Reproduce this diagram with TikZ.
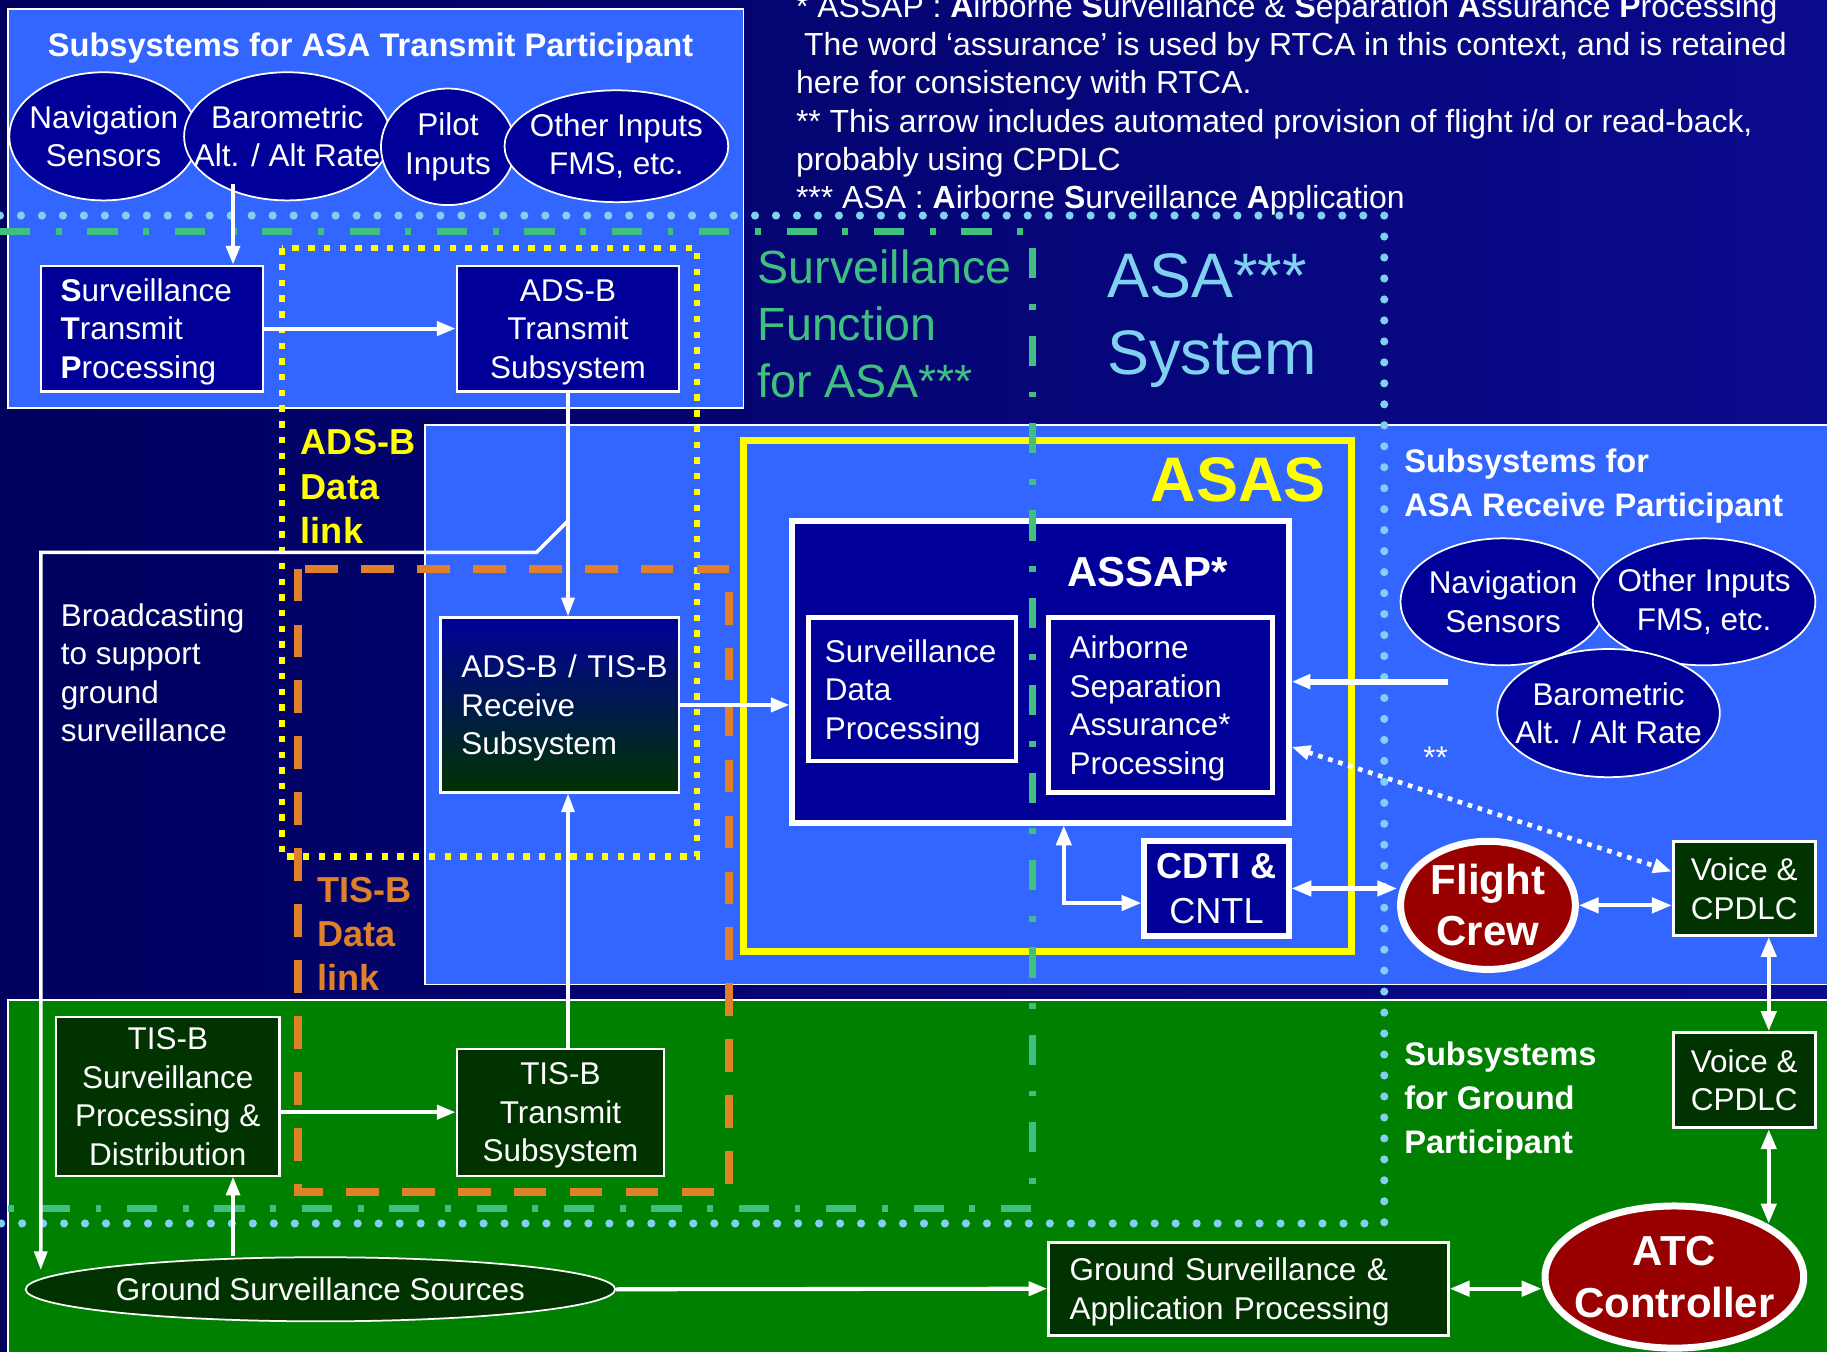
\documentclass[tikz,border=0pt]{standalone}
\usepackage{fontspec}
\setmainfont{Liberation Sans}
\usetikzlibrary{shapes.geometric,arrows.meta,calc}

\definecolor{navyL}{RGB}{0,0,95}
\definecolor{navyR}{RGB}{10,10,140}
\definecolor{brightblue}{RGB}{51,102,255}
\definecolor{boxblue}{RGB}{0,0,153}
\definecolor{groundgreen}{RGB}{0,128,0}
\definecolor{boxgreen}{RGB}{0,51,0}
\definecolor{darkred}{RGB}{153,0,0}
\definecolor{dlyellow}{RGB}{255,255,0}
\definecolor{dlorange}{RGB}{224,128,40}
\definecolor{sfgreen}{RGB}{64,192,128}
\definecolor{asablue}{RGB}{128,208,240}

\newcommand{\fsz}[2]{\fontsize{#1}{#2}\selectfont}

\begin{document}
\begin{tikzpicture}[x=1pt,y=-1pt,
  every node/.style={text=white, inner sep=0pt},
  txt/.style={font=\fsz{27}{33}},
  bluebox/.style={draw=white, line width=2pt, fill=boxblue, txt, align=center, text depth=0pt},
  greenbox/.style={draw=white, line width=2.5pt, fill=boxgreen, txt, align=center, text depth=0pt},
  ell/.style={ellipse, draw=white, line width=1.5pt, fill=boxblue, txt, align=center, inner xsep=-30pt, inner ysep=-20pt},
  redell/.style={ellipse, draw=white, line width=6pt, fill=darkred, font=\bfseries\fsz{36}{44}, align=center, inner xsep=-40pt, inner ysep=-30pt},
  arr/.style={draw=white, line width=3.5pt, -{Triangle[length=16pt,width=12pt]}},
  darr/.style={draw=white, line width=3.5pt, {Triangle[length=17pt,width=13pt]}-{Triangle[length=17pt,width=13pt]}},
  thinarr/.style={draw=white, line width=3pt, -{Triangle[length=16pt,width=11pt]}},
  dotarr/.style={draw=white, line width=4pt, dash pattern=on 4pt off 5pt, {Triangle[length=16pt,width=12pt]}-{Triangle[length=16pt,width=12pt]}},
  title/.style={font=\bfseries\fsz{28}{38}, align=left},
  asadots/.style={draw=asablue, line width=7pt, line cap=round, dash pattern=on 0pt off 18pt},
  sfline/.style={draw=sfgreen, line width=6pt, dash pattern=on 26pt off 22pt on 5pt off 22pt},
  adsbline/.style={draw=dlyellow, line width=5.5pt, dash pattern=on 5.5pt off 8pt},
  tisbline/.style={draw=dlorange, line width=7pt, dash pattern=on 28pt off 20pt},
  region/.style={draw=white, line width=1.5pt}
]
\useasboundingbox (0,0) rectangle (1568,1160);
\clip (0,0) rectangle (1568,1160);
\shade[left color=navyL, right color=navyR] (0,0) rectangle (1568,1160);

% regions
\draw[region, fill=brightblue] (7,8) rectangle (638,350);
\draw[region, fill=brightblue] (365,365) rectangle (1580,845);
\draw[region, fill=groundgreen] (7,858) rectangle (1580,1170);
\draw[dlyellow, line width=6pt] (638,378) rectangle (1160,817);

% transmit participant
\node[title, anchor=center] (ttl) at (318,41) {Subsystems for ASA Transmit Participant};
\node[ell, minimum width=162pt, minimum height=110pt] (navT) at (89,117) {Navigation\\Sensors};
\node[ell, minimum width=177pt, minimum height=110pt] (baroT) at (246.5,117) {Barometric\\Alt. / Alt Rate};
\node[ell, minimum width=115pt, minimum height=100pt] (pilT) at (384.5,126) {Pilot\\Inputs};
\node[ell, minimum width=192pt, minimum height=96pt] (othT) at (529,125.5) {Other Inputs\\FMS, etc.};
\node[draw=white, line width=2pt, fill=boxblue, txt, align=left, text depth=66pt, minimum width=191pt, minimum height=108pt, text width=157pt, inner xsep=17pt] (STP) at (130.5,282) {\textbf{S}urveillance\\\textbf{T}ransmit\\\textbf{P}rocessing};
\node[bluebox, minimum width=191pt, minimum height=108pt] (ADSBT) at (487.5,282) {ADS-B\\Transmit\\Subsystem};

% receive participant
\node[draw=white, line width=2pt, top color=boxblue, bottom color=boxgreen, txt, align=left, text depth=66pt, minimum width=205pt, minimum height=150pt, text width=169pt, inner xsep=18pt] (RX) at (480.5,605) {\mbox{ADS-B / TIS-B}\\Receive\\Subsystem};
\node[draw=white, line width=5pt, fill=boxblue, minimum width=426pt, minimum height=259pt] (ASSAP) at (893,576.5) {};
\node[draw=white, line width=4pt, fill=boxblue, txt, align=left, text depth=66pt, minimum width=178pt, minimum height=123pt, text width=150pt, inner xsep=14pt] (SDP) at (783,591.5) {Surveillance\\Data\\Processing};
\node[draw=white, line width=4pt, fill=boxblue, txt, align=left, text depth=99pt, minimum width=192pt, minimum height=150pt, text width=156pt, inner xsep=18pt] (ASP) at (996,605) {Airborne\\Separation\\Assurance*\\Processing};
\node[draw=white, line width=5pt, fill=boxblue, font=\fsz{31}{38}, align=center, minimum width=124pt, minimum height=81pt] (CDTI) at (1044,762.5) {\textbf{CDTI \&}\\CNTL};
\node[redell, minimum width=150pt, minimum height=110pt] (FC) at (1277,777) {Flight\\Crew};
\node[greenbox, minimum width=122pt, minimum height=81pt] (Va) at (1497,762.5) {Voice \&\\CPDLC};
\node[ell, minimum width=176pt, minimum height=109pt] (navR) at (1290,516.5) {Navigation\\Sensors};
\node[ell, minimum width=191pt, minimum height=109pt] (othR) at (1462.5,516.5) {Other Inputs\\FMS, etc.};
\node[ell, minimum width=191pt, minimum height=110pt] (baroR) at (1380.5,612) {Barometric\\Alt. / Alt Rate};

% ground participant
\node[greenbox, line width=2pt, minimum width=192pt, minimum height=136pt] (SPD) at (144,941) {TIS-B\\Surveillance\\Processing \&\\Distribution};
\node[greenbox, line width=2pt, minimum width=178pt, minimum height=109pt] (TISBT) at (481,954.5) {TIS-B\\Transmit\\Subsystem};
\node[ell, fill=boxgreen, minimum width=506pt, minimum height=55pt] (GSS) at (275,1106.5) {Ground Surveillance Sources};
\node[draw=white, line width=2.5pt, fill=boxgreen, txt, align=left, text depth=33pt, minimum width=343pt, minimum height=80pt, text width=307pt, inner xsep=18pt] (GSAP) at (1071.5,1106) {Ground Surveillance \&\\Application Processing};
\node[greenbox, minimum width=122pt, minimum height=82pt] (Vg) at (1497,927) {Voice \&\\CPDLC};
\node[redell, minimum width=222pt, minimum height=122pt] (ATC) at (1437,1096) {ATC\\Controller};

% boundaries
\draw[adsbline] (242,213) rectangle (598,735);
\draw[tisbline] (256,488) rectangle (626,1023);
\draw[sfline] (0,199) -- (886,199) -- (886,1037) -- (0,1037);
\draw[asadots] (0,185) -- (1188,185) -- (1188,1050) -- (0,1050);

% connectors
\coordinate (baroOut) at (200,158);
\coordinate (brk) at (487.5,447);
\coordinate (bcEnd) at (35,1090);
\coordinate (rxIn) at (1243,585);
\coordinate (atcIn) at (1518,1050);
\coordinate (spdIn) at ([xshift=56pt]SPD.south);
\draw[arr, line width=3pt] (baroOut) -- (baroOut |- STP.north);
\draw[arr] (STP.east) -- (ADSBT.west);
\draw[thinarr] (ADSBT.south) -- (ADSBT.south |- RX.north);
\draw[thinarr] (brk) -- ++(-27,27) -| (bcEnd);
\draw[thinarr] (ADSBT.south |- TISBT.north) -- (ADSBT.south |- RX.south);
\draw[arr] (RX.east) -- (RX.east -| ASSAP.west);
\draw[arr, line width=5pt] (rxIn) -- (rxIn -| ASSAP.east);
\draw[dotarr] ([yshift=-64.5pt]ASSAP.east) -- ([yshift=14.5pt]Va.west);
\draw[darr] ([xshift=20pt]ASSAP.south) |- ([yshift=-12.5pt]CDTI.west);
\draw[darr] (CDTI.east) -- (CDTI.east -| FC.west);
\draw[darr] (FC.east) -- (FC.east -| Va.west);
\draw[darr] ([xshift=21pt]Va.south) -- ([xshift=21pt]Vg.north);
\draw[darr] ([xshift=21pt]Vg.south) -- (atcIn);
\draw[darr] (GSAP.east) -- (GSAP.east -| ATC.west);
\draw[arr] (GSS.east) -- (GSAP.west);
\draw[arr, line width=3pt] (spdIn |- GSS.north) -- (spdIn);
\draw[arr] (SPD.east |- TISBT.west) -- (TISBT.west);

% labels
\node[anchor=west, font=\fsz{40}{49}, text=sfgreen, align=left] (sfl) at (650,278) {Surveillance\\Function\\for ASA***};
\node[anchor=west, font=\fsz{54}{66}, text=asablue, align=left] (asal) at (950,275) {ASA***\\System};
\node[anchor=west, font=\bfseries\fsz{31}{38}, text=dlyellow, align=left] (adsbl) at (258,417.5) {ADS-B\\Data\\link};
\node[anchor=west, font=\bfseries\fsz{31}{38}, text=dlorange, align=left] (tisbl) at (272,801.5) {TIS-B\\Data\\link};
\node[anchor=east, font=\bfseries\fsz{54}{60}, text=dlyellow] (asasl) at (1138,412) {ASAS};
\node[font=\bfseries\fsz{36}{40}] (assapl) at (985,491) {ASSAP*};
\node[anchor=west, title] (rxttl) at (1205,417) {Subsystems for\\ASA Receive Participant};
\node[anchor=west, title] (gttl) at (1205,945) {Subsystems\\for Ground\\Participant};
\node[anchor=west, txt, align=left] (bcl) at (52,577.5) {Broadcasting\\to support\\ground\\surveillance};
\node[txt] (stars) at (1232,650) {**};
\node[anchor=north west, align=left, font=\fsz{27.4}{32.75}] (notes) at (683,-5) {* ASSAP : \textbf{A}irborne \textbf{S}urveillance \& \textbf{S}eparation \textbf{A}ssurance \textbf{P}rocessing\\\hspace*{7pt}The word ‘assurance’ is used by RTCA in this context, and is retained\\here for consistency with RTCA.\\** This arrow includes automated provision of flight i/d or read-back,\\probably using CPDLC\\*** ASA : \textbf{A}irborne \textbf{S}urveillance \textbf{A}pplication};
\end{tikzpicture}
\end{document}
